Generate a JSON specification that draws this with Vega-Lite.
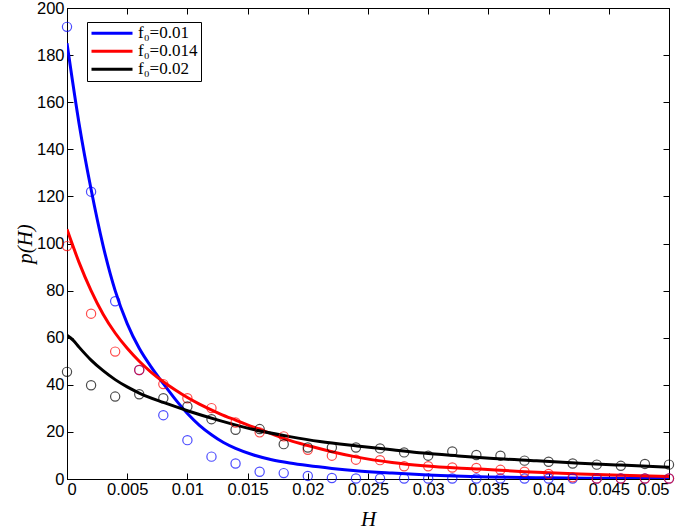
{
  "$schema": "https://vega.github.io/schema/vega-lite/v6.json",
  "width": 602,
  "height": 471,
  "autosize": "none",
  "padding": {"left": 67, "top": 8, "right": 16, "bottom": 52},
  "background": "white",
  "view": {"stroke": "black", "strokeWidth": 1},
  "config": {
    "axis": {
      "grid": false,
      "domainColor": "black",
      "tickColor": "black",
      "labelColor": "black",
      "labelFont": "Liberation Sans",
      "labelFontSize": 16.5,
      "tickSize": -6,
      "titleColor": "black",
      "titleFont": "Liberation Serif",
      "titleFontStyle": "italic",
      "titleFontWeight": "normal",
      "titleFontSize": 21
    }
  },
  "datasets": {
    "curves": [
      {"H": 0, "p": 185, "series": "f₀=0.01"},
      {"H": 0.001, "p": 151, "series": "f₀=0.01"},
      {"H": 0.002, "p": 123, "series": "f₀=0.01"},
      {"H": 0.003, "p": 99, "series": "f₀=0.01"},
      {"H": 0.004, "p": 80, "series": "f₀=0.01"},
      {"H": 0.005, "p": 66, "series": "f₀=0.01"},
      {"H": 0.006, "p": 55.5, "series": "f₀=0.01"},
      {"H": 0.007, "p": 47.5, "series": "f₀=0.01"},
      {"H": 0.008, "p": 40.5, "series": "f₀=0.01"},
      {"H": 0.009, "p": 33.8, "series": "f₀=0.01"},
      {"H": 0.01, "p": 27.8, "series": "f₀=0.01"},
      {"H": 0.011, "p": 22.8, "series": "f₀=0.01"},
      {"H": 0.012, "p": 18.8, "series": "f₀=0.01"},
      {"H": 0.013, "p": 15.5, "series": "f₀=0.01"},
      {"H": 0.014, "p": 13, "series": "f₀=0.01"},
      {"H": 0.0155, "p": 10.2, "series": "f₀=0.01"},
      {"H": 0.017, "p": 8.2, "series": "f₀=0.01"},
      {"H": 0.0185, "p": 6.8, "series": "f₀=0.01"},
      {"H": 0.02, "p": 5.7, "series": "f₀=0.01"},
      {"H": 0.022, "p": 4.5, "series": "f₀=0.01"},
      {"H": 0.024, "p": 3.5, "series": "f₀=0.01"},
      {"H": 0.027, "p": 2.5, "series": "f₀=0.01"},
      {"H": 0.03, "p": 1.7, "series": "f₀=0.01"},
      {"H": 0.035, "p": 0.9, "series": "f₀=0.01"},
      {"H": 0.04, "p": 0.5, "series": "f₀=0.01"},
      {"H": 0.045, "p": 0.3, "series": "f₀=0.01"},
      {"H": 0.05, "p": 0.2, "series": "f₀=0.01"},

      {"H": 0, "p": 106, "series": "f₀=0.014"},
      {"H": 0.001, "p": 92, "series": "f₀=0.014"},
      {"H": 0.002, "p": 80, "series": "f₀=0.014"},
      {"H": 0.003, "p": 70, "series": "f₀=0.014"},
      {"H": 0.004, "p": 62, "series": "f₀=0.014"},
      {"H": 0.005, "p": 55.5, "series": "f₀=0.014"},
      {"H": 0.006, "p": 50, "series": "f₀=0.014"},
      {"H": 0.007, "p": 45.3, "series": "f₀=0.014"},
      {"H": 0.008, "p": 41.3, "series": "f₀=0.014"},
      {"H": 0.009, "p": 37.8, "series": "f₀=0.014"},
      {"H": 0.01, "p": 34.6, "series": "f₀=0.014"},
      {"H": 0.011, "p": 31.8, "series": "f₀=0.014"},
      {"H": 0.0127, "p": 27.7, "series": "f₀=0.014"},
      {"H": 0.014, "p": 25, "series": "f₀=0.014"},
      {"H": 0.0155, "p": 22, "series": "f₀=0.014"},
      {"H": 0.017, "p": 19.2, "series": "f₀=0.014"},
      {"H": 0.0185, "p": 16.4, "series": "f₀=0.014"},
      {"H": 0.02, "p": 14.2, "series": "f₀=0.014"},
      {"H": 0.022, "p": 11.6, "series": "f₀=0.014"},
      {"H": 0.024, "p": 9.4, "series": "f₀=0.014"},
      {"H": 0.027, "p": 7, "series": "f₀=0.014"},
      {"H": 0.0296, "p": 5.6, "series": "f₀=0.014"},
      {"H": 0.0343, "p": 4.2, "series": "f₀=0.014"},
      {"H": 0.038, "p": 3.1, "series": "f₀=0.014"},
      {"H": 0.0426, "p": 2.1, "series": "f₀=0.014"},
      {"H": 0.046, "p": 1.6, "series": "f₀=0.014"},
      {"H": 0.05, "p": 1.1, "series": "f₀=0.014"},

      {"H": 0, "p": 61, "series": "f₀=0.02"},
      {"H": 0.0005, "p": 59, "series": "f₀=0.02"},
      {"H": 0.001, "p": 56, "series": "f₀=0.02"},
      {"H": 0.002, "p": 50.5, "series": "f₀=0.02"},
      {"H": 0.003, "p": 46, "series": "f₀=0.02"},
      {"H": 0.004, "p": 42.2, "series": "f₀=0.02"},
      {"H": 0.005, "p": 39.1, "series": "f₀=0.02"},
      {"H": 0.006, "p": 36.5, "series": "f₀=0.02"},
      {"H": 0.008, "p": 32.5, "series": "f₀=0.02"},
      {"H": 0.01, "p": 29, "series": "f₀=0.02"},
      {"H": 0.0127, "p": 24.8, "series": "f₀=0.02"},
      {"H": 0.0155, "p": 21, "series": "f₀=0.02"},
      {"H": 0.0185, "p": 18, "series": "f₀=0.02"},
      {"H": 0.021, "p": 15.9, "series": "f₀=0.02"},
      {"H": 0.0241, "p": 14, "series": "f₀=0.02"},
      {"H": 0.027, "p": 12.4, "series": "f₀=0.02"},
      {"H": 0.0296, "p": 11, "series": "f₀=0.02"},
      {"H": 0.0325, "p": 9.8, "series": "f₀=0.02"},
      {"H": 0.0351, "p": 8.8, "series": "f₀=0.02"},
      {"H": 0.039, "p": 7.7, "series": "f₀=0.02"},
      {"H": 0.0426, "p": 6.7, "series": "f₀=0.02"},
      {"H": 0.046, "p": 5.9, "series": "f₀=0.02"},
      {"H": 0.05, "p": 5, "series": "f₀=0.02"}
    ],
    "pts": [
      {"H": 0, "p": 192, "series": "f₀=0.01"},
      {"H": 0.002, "p": 122, "series": "f₀=0.01"},
      {"H": 0.004, "p": 75.5, "series": "f₀=0.01"},
      {"H": 0.006, "p": 46.3, "series": "f₀=0.01"},
      {"H": 0.008, "p": 27.1, "series": "f₀=0.01"},
      {"H": 0.01, "p": 16.5, "series": "f₀=0.01"},
      {"H": 0.012, "p": 9.5, "series": "f₀=0.01"},
      {"H": 0.014, "p": 6.6, "series": "f₀=0.01"},
      {"H": 0.016, "p": 3.1, "series": "f₀=0.01"},
      {"H": 0.018, "p": 2.5, "series": "f₀=0.01"},
      {"H": 0.02, "p": 1.3, "series": "f₀=0.01"},
      {"H": 0.022, "p": 0.4, "series": "f₀=0.01"},
      {"H": 0.024, "p": 0.2, "series": "f₀=0.01"},
      {"H": 0.026, "p": 0.2, "series": "f₀=0.01"},
      {"H": 0.028, "p": 0.2, "series": "f₀=0.01"},
      {"H": 0.03, "p": 0.2, "series": "f₀=0.01"},
      {"H": 0.032, "p": 0.2, "series": "f₀=0.01"},
      {"H": 0.034, "p": 0.2, "series": "f₀=0.01"},
      {"H": 0.036, "p": 0.2, "series": "f₀=0.01"},
      {"H": 0.038, "p": 0.2, "series": "f₀=0.01"},
      {"H": 0.04, "p": 0.2, "series": "f₀=0.01"},
      {"H": 0.042, "p": 0.2, "series": "f₀=0.01"},
      {"H": 0.044, "p": 0.2, "series": "f₀=0.01"},
      {"H": 0.046, "p": 0.2, "series": "f₀=0.01"},
      {"H": 0.048, "p": 0.2, "series": "f₀=0.01"},
      {"H": 0.05, "p": 0.2, "series": "f₀=0.01"},

      {"H": 0, "p": 98.9, "series": "f₀=0.014"},
      {"H": 0.002, "p": 70.2, "series": "f₀=0.014"},
      {"H": 0.004, "p": 54.1, "series": "f₀=0.014"},
      {"H": 0.006, "p": 46.3, "series": "f₀=0.014"},
      {"H": 0.008, "p": 40.3, "series": "f₀=0.014"},
      {"H": 0.01, "p": 34.3, "series": "f₀=0.014"},
      {"H": 0.012, "p": 30.1, "series": "f₀=0.014"},
      {"H": 0.014, "p": 24, "series": "f₀=0.014"},
      {"H": 0.016, "p": 19.8, "series": "f₀=0.014"},
      {"H": 0.018, "p": 18.1, "series": "f₀=0.014"},
      {"H": 0.02, "p": 12.4, "series": "f₀=0.014"},
      {"H": 0.022, "p": 9.9, "series": "f₀=0.014"},
      {"H": 0.024, "p": 8.2, "series": "f₀=0.014"},
      {"H": 0.026, "p": 8, "series": "f₀=0.014"},
      {"H": 0.028, "p": 5.4, "series": "f₀=0.014"},
      {"H": 0.03, "p": 5.4, "series": "f₀=0.014"},
      {"H": 0.032, "p": 4.9, "series": "f₀=0.014"},
      {"H": 0.034, "p": 4.7, "series": "f₀=0.014"},
      {"H": 0.036, "p": 3.9, "series": "f₀=0.014"},
      {"H": 0.038, "p": 3.1, "series": "f₀=0.014"},
      {"H": 0.04, "p": 2.1, "series": "f₀=0.014"},
      {"H": 0.042, "p": 0.7, "series": "f₀=0.014"},
      {"H": 0.044, "p": 0.2, "series": "f₀=0.014"},
      {"H": 0.046, "p": 0.2, "series": "f₀=0.014"},
      {"H": 0.048, "p": 0.2, "series": "f₀=0.014"},
      {"H": 0.05, "p": 0.2, "series": "f₀=0.014"},

      {"H": 0, "p": 45.5, "series": "f₀=0.02"},
      {"H": 0.002, "p": 39.8, "series": "f₀=0.02"},
      {"H": 0.004, "p": 35, "series": "f₀=0.02"},
      {"H": 0.006, "p": 36, "series": "f₀=0.02"},
      {"H": 0.008, "p": 34.3, "series": "f₀=0.02"},
      {"H": 0.01, "p": 30.8, "series": "f₀=0.02"},
      {"H": 0.012, "p": 25.4, "series": "f₀=0.02"},
      {"H": 0.014, "p": 20.9, "series": "f₀=0.02"},
      {"H": 0.016, "p": 21.2, "series": "f₀=0.02"},
      {"H": 0.018, "p": 14.8, "series": "f₀=0.02"},
      {"H": 0.02, "p": 13.4, "series": "f₀=0.02"},
      {"H": 0.022, "p": 13.4, "series": "f₀=0.02"},
      {"H": 0.024, "p": 13.4, "series": "f₀=0.02"},
      {"H": 0.026, "p": 13, "series": "f₀=0.02"},
      {"H": 0.028, "p": 11.3, "series": "f₀=0.02"},
      {"H": 0.03, "p": 9.9, "series": "f₀=0.02"},
      {"H": 0.032, "p": 11.7, "series": "f₀=0.02"},
      {"H": 0.034, "p": 10.2, "series": "f₀=0.02"},
      {"H": 0.036, "p": 9.9, "series": "f₀=0.02"},
      {"H": 0.038, "p": 7.8, "series": "f₀=0.02"},
      {"H": 0.04, "p": 7.3, "series": "f₀=0.02"},
      {"H": 0.042, "p": 6.6, "series": "f₀=0.02"},
      {"H": 0.044, "p": 6.1, "series": "f₀=0.02"},
      {"H": 0.046, "p": 5.6, "series": "f₀=0.02"},
      {"H": 0.048, "p": 6.4, "series": "f₀=0.02"},
      {"H": 0.05, "p": 6.1, "series": "f₀=0.02"}
    ]
  },
  "layer": [
    {
      "data": {"name": "curves"},
      "mark": {"type": "line", "strokeWidth": 3, "clip": true, "interpolate": "monotone"},
      "encoding": {
        "x": {
          "field": "H", "type": "quantitative",
          "scale": {"domain": [0, 0.05], "nice": false},
          "axis": {
            "title": "H",
            "values": [0, 0.005, 0.01, 0.015, 0.02, 0.025, 0.03, 0.035, 0.04, 0.045, 0.05],
            "format": "~g",
            "labelPadding": 8,
            "titlePadding": 11
          }
        },
        "y": {
          "field": "p", "type": "quantitative",
          "scale": {"domain": [0, 200], "nice": false},
          "axis": {
            "title": "p(H)",
            "values": [0, 20, 40, 60, 80, 100, 120, 140, 160, 180, 200],
            "labelPadding": 9,
            "titlePadding": 1
          }
        },
        "color": {
          "field": "series", "type": "nominal",
          "scale": {"domain": ["f₀=0.01", "f₀=0.014", "f₀=0.02"], "range": ["#0000ff", "#ff0000", "#000000"]},
          "legend": {
            "title": null,
            "orient": "none",
            "legendX": 20,
            "legendY": 14,
            "symbolType": "stroke",
            "symbolSize": 1681,
            "symbolStrokeWidth": 3,
            "clipHeight": 16.5,
            "labelFont": "Liberation Serif",
            "labelFontSize": 17,
            "labelColor": "black",
            "labelOffset": 4,
            "strokeColor": "black",
            "fillColor": "white",
            "padding": 3,
            "rowPadding": 0
          }
        }
      }
    },
    {
      "data": {"name": "pts"},
      "mark": {"type": "point", "shape": "circle", "filled": false, "size": 85, "strokeWidth": 1.2, "clip": false},
      "encoding": {
        "x": {"field": "H", "type": "quantitative", "axis": null},
        "y": {"field": "p", "type": "quantitative", "axis": null},
        "color": {"field": "series", "type": "nominal", "legend": null}
      }
    },
    {
      "data": {"name": "pts"},
      "mark": {"type": "point", "opacity": 0},
      "encoding": {
        "x": {
          "field": "H", "type": "quantitative",
          "axis": {"orient": "top", "labels": false, "title": null,
                   "values": [0, 0.005, 0.01, 0.015, 0.02, 0.025, 0.03, 0.035, 0.04, 0.045, 0.05]}
        },
        "y": {
          "field": "p", "type": "quantitative",
          "axis": {"orient": "right", "labels": false, "title": null,
                   "values": [0, 20, 40, 60, 80, 100, 120, 140, 160, 180, 200]}
        }
      }
    }
  ],
  "resolve": {"axis": {"x": "independent", "y": "independent"}}
}
